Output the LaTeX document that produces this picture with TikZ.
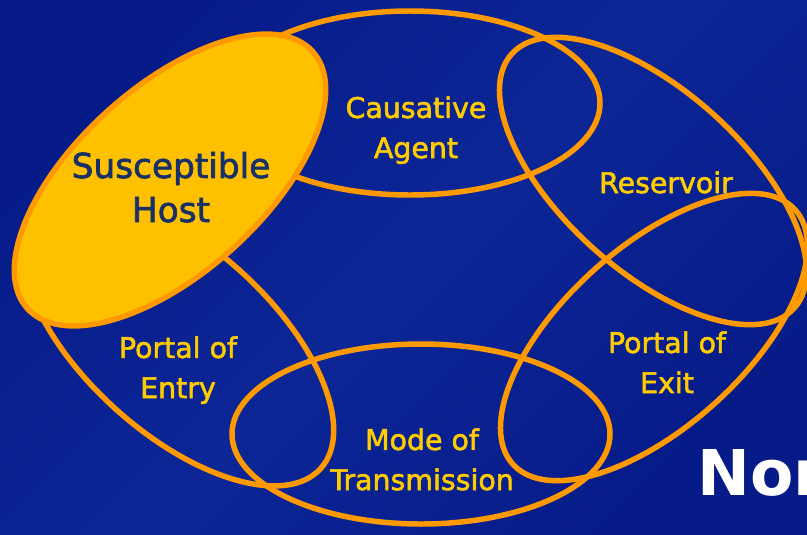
\documentclass[tikz,border=0pt]{standalone}
\usepackage{fontspec}
\setmainfont{DejaVu Sans}
\newfontfamily\lblfont{DejaVu Sans}[FakeBold=2]
\newfontfamily\norfont{DejaVu Sans}
\definecolor{deepblue}{RGB}{6,27,136}
\definecolor{paleblue}{RGB}{12,38,150}
\definecolor{ringorange}{RGB}{255,153,0}
\definecolor{hostfill}{RGB}{255,192,0}
\definecolor{lbltext}{RGB}{255,204,0}
\definecolor{hosttext}{RGB}{23,48,104}

\begin{document}
\begin{tikzpicture}[x=0.025cm, y=0.025cm,
    ring/.style={draw=ringorange, line width=3.9pt},
    lbl/.style={text=lbltext, align=center, inner sep=0pt, anchor=base,
      font=\lblfont\fontsize{20.2pt}{28.5pt}\selectfont}]
  \useasboundingbox (0,0) rectangle (807,-534);
  \clip (0,0) rectangle (807,-534);
  \shade[left color=deepblue, right color=deepblue, middle color=paleblue,
    shading angle=45] (0,0) rectangle (807,-534);

  % the chain of links
  \draw[ring] (421,-434) ellipse (189 and 90);
  \draw[ring, rotate around={42:(654,-337)}] (654,-337) ellipse (190 and 90);
  \draw[ring, rotate around={-42:(653,-181)}] (653,-181) ellipse (190 and 90);
  \draw[ring] (410,-103) ellipse (190 and 92);
  \draw[ring, rotate around={-42:(178,-340)}] (178,-340) ellipse (192 and 93);
  \draw[ring, fill=hostfill, rotate around={42:(170,-180)}] (170,-180) ellipse (192 and 93);

  % anchor=base sits on the last line
  \node[lbl] (agent) at (416,-158) {Causative\\Agent};
  \node[lbl, text=hosttext, font=\lblfont\fontsize{24.4pt}{31.3pt}\selectfont]
    (host) at (171,-222) {Susceptible\\Host};
  \node[lbl] (reservoir) at (666,-193) {Reservoir};
  \node[lbl] (exit) at (667,-393) {Portal of\\Exit};
  \node[lbl] (mode) at (422,-490) {Mode of\\Transmission};
  \node[lbl] (entry) at (178,-398) {Portal of\\Entry};

  \node[anchor=base west, inner sep=0pt, text=white,
    font=\norfont\bfseries\fontsize{44.9pt}{50pt}\selectfont] (nor) at (697,-495) {Nor};
\end{tikzpicture}
\end{document}
